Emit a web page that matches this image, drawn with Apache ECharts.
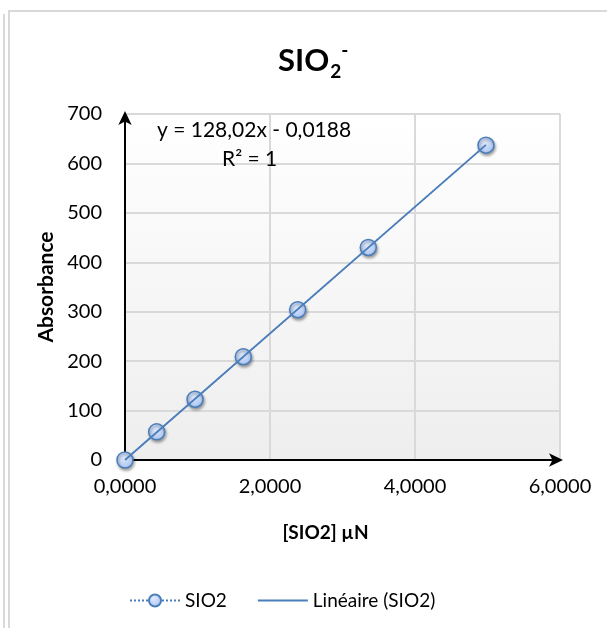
<!DOCTYPE html>
<html>
<head>
<meta charset="utf-8">
<script src="https://cdn.jsdelivr.net/npm/echarts@6/dist/echarts.min.js"></script>
<style>
  html, body { margin: 0; padding: 0; background: #ffffff; }
  #chart { width: 607px; height: 628px; }
</style>
</head>
<body>
<div id="chart"></div>
<script>
// Calibration points: concentration [SIO2] (µN) vs absorbance
const concentration = [0, 0.437, 0.966, 1.632, 2.382, 3.356, 4.979];
const absorbance = [0, 57, 123, 209, 304, 430, 637];

// Linear fit reported on the chart
const slope = 128.02;
const intercept = -0.0188;
const rSquared = 1;

// Axis ranges and ticks
const xRange = [0, 6];
const xStep = 2;
const yRange = [0, 700];
const yStep = 100;

const FONT = 'Lato, "Open Sans", sans-serif';
const BLUE = '#4a7ebb';

const fmtComma = (v, d) => v.toFixed(d).replace('.', ',');

const points = concentration.map((x, i) => [x, absorbance[i]]);
const xMin = Math.min(...concentration);
const xMax = Math.max(...concentration);
const trend = [xMin, xMax].map(x => [x, slope * x + intercept]);

const chart = echarts.init(document.getElementById('chart'), null, { renderer: 'canvas' });

chart.setOption({
  backgroundColor: '#ffffff',
  animation: false,
  title: {
    text: '{a|SIO}{b|2}{c|-}',
    left: 273,
    top: 36,
    textStyle: {
      rich: {
        a: { fontFamily: FONT, fontSize: 31, fontWeight: 'bold', color: '#000', lineHeight: 40, verticalAlign: 'middle' },
        b: { fontFamily: FONT, fontSize: 19, fontWeight: 'bold', color: '#000', lineHeight: 40, verticalAlign: 'bottom', padding: [0, 0, 0, 1] },
        c: { fontFamily: FONT, fontSize: 19, fontWeight: 'bold', color: '#000', lineHeight: 40, verticalAlign: 'top' }
      }
    }
  },
  grid: {
    left: 125,
    right: 47,
    top: 114,
    bottom: 168,
    show: true,
    borderWidth: 0,
    backgroundColor: new echarts.graphic.LinearGradient(0, 0, 0, 1, [
      { offset: 0, color: '#ffffff' },
      { offset: 1, color: '#eeeeee' }
    ])
  },
  legend: {
    left: 124,
    top: 586,
    itemWidth: 50,
    itemHeight: 15,
    itemGap: 30,
    textStyle: { fontFamily: FONT, fontSize: 19, color: '#000' },
    data: [
      { name: 'SIO2' },
      { name: 'Linéaire (SIO2)', itemStyle: { color: 'rgba(0,0,0,0)', borderWidth: 0, opacity: 0 } }
    ]
  },
  xAxis: {
    type: 'value',
    min: xRange[0],
    max: xRange[1],
    interval: xStep,
    name: '[SIO2] µN',
    nameLocation: 'middle',
    nameGap: 63,
    nameTextStyle: { fontFamily: FONT, fontSize: 19, fontWeight: 'bold', color: '#000', padding: [0, 34, 0, 0] },
    axisLine: {
      show: true,
      symbol: ['none', 'arrow'],
      symbolSize: [10, 14],
      symbolOffset: [0, 3],
      lineStyle: { color: '#000', width: 2 }
    },
    axisTick: { show: false },
    axisLabel: {
      margin: 17,
      fontFamily: FONT,
      fontSize: 20,
      color: '#000',
      formatter: v => fmtComma(v, 4)
    },
    splitLine: { show: true, lineStyle: { color: '#d9d9d9', width: 2 } }
  },
  yAxis: {
    type: 'value',
    min: yRange[0],
    max: yRange[1],
    interval: yStep,
    name: 'Absorbance',
    nameLocation: 'middle',
    nameRotate: 90,
    nameGap: 68,
    nameTextStyle: { fontFamily: FONT, fontSize: 21, fontWeight: 'bold', color: '#000' },
    axisLine: {
      show: true,
      symbol: ['none', 'arrow'],
      symbolSize: [10, 14],
      symbolOffset: [0, 3],
      lineStyle: { color: '#000', width: 2 }
    },
    axisTick: { show: false },
    axisLabel: { margin: 23, fontFamily: FONT, fontSize: 20, color: '#000' },
    splitLine: { show: true, lineStyle: { color: '#d9d9d9', width: 2 } }
  },
  series: [
    {
      name: 'SIO2',
      type: 'line',
      data: points,
      z: 3,
      symbol: 'circle',
      symbolSize: 16,
      showAllSymbol: true,
      lineStyle: { color: BLUE, width: 1.2, type: 'dotted' },
      itemStyle: {
        color: new echarts.graphic.RadialGradient(0.4, 0.35, 0.7, [
          { offset: 0, color: '#e0eafc' },
          { offset: 1, color: '#a6c1f0' }
        ]),
        borderColor: BLUE,
        borderWidth: 1.5,
        shadowBlur: 3,
        shadowOffsetX: 1,
        shadowOffsetY: 2,
        shadowColor: 'rgba(0,0,0,0.35)'
      }
    },
    {
      name: 'Linéaire (SIO2)',
      type: 'line',
      data: trend,
      z: 4,
      symbol: 'none',
      lineStyle: { color: BLUE, width: 1.8 }
    }
  ],
  graphic: [
    {
      type: 'rect',
      silent: true,
      z: 100,
      shape: { x: 9, y: 11, width: 640, height: 660 },
      style: { fill: 'none', stroke: '#d9d9d9', lineWidth: 2 }
    },
    {
      type: 'line',
      silent: true,
      z: 100,
      shape: { x1: 4, y1: 14, x2: 4, y2: 640 },
      style: { stroke: '#d9d9d9', lineWidth: 2 }
    },
    {
      type: 'text',
      silent: true,
      z: 100,
      left: 157,
      top: 120,
      style: {
        text: 'y = ' + fmtComma(slope, 2) + 'x - ' + fmtComma(Math.abs(intercept), 4),
        font: '21px ' + FONT,
        fill: '#000'
      }
    },
    {
      type: 'text',
      silent: true,
      z: 100,
      left: 222,
      top: 149,
      style: {
        text: 'R² = ' + rSquared,
        font: '21px ' + FONT,
        fill: '#000'
      }
    }
  ]
});
</script>
</body>
</html>
